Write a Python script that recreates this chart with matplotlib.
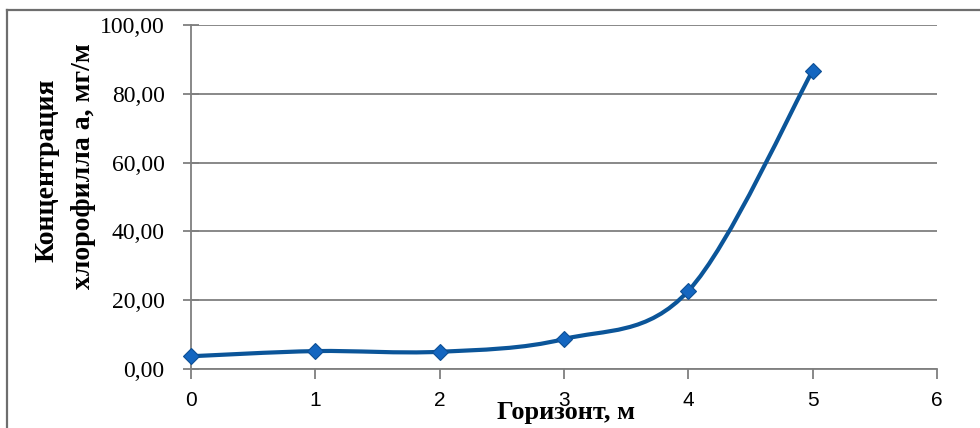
import matplotlib
matplotlib.use("Agg")
import matplotlib.pyplot as plt
from matplotlib.path import Path
from matplotlib.patches import PathPatch
from matplotlib.lines import Line2D
from matplotlib.ticker import FuncFormatter

depth = [0, 1, 2, 3, 4, 5]
chl = [3.7, 5.2, 5.0, 8.7, 22.7, 86.7]
yticks = [0, 20, 40, 60, 80, 100]
xticks = [0, 1, 2, 3, 4, 5, 6]
xlabel = "Горизонт, м"
ylabel_lines = ["Концентрация", "хлорофилла а, мг/м"]

line_color = "#0b5599"
marker_face = "#1466c0"
marker_edge = "#0d4f94"
grid_color = "#7f7f7f"

fig = plt.figure(figsize=(9.8, 4.28), dpi=100)
ax = fig.add_axes([0.1949, 0.1379, 0.7612, 0.8037])

# figure border (top and left visible)
fig.add_artist(Line2D([7/980, 7/980], [0, 1 - 10/428], transform=fig.transFigure, color="#6e6e6e", lw=1.6))
fig.add_artist(Line2D([7/980, 1], [1 - 10/428, 1 - 10/428], transform=fig.transFigure, color="#6e6e6e", lw=1.6))

# Excel-like smoothed line via cubic Bezier
pts = list(zip(depth, chl))
n = len(pts)
verts = [pts[0]]
codes = [Path.MOVETO]
for i in range(n - 1):
    p0 = pts[i - 1] if i > 0 else pts[i]
    p1 = pts[i]
    p2 = pts[i + 1]
    p3 = pts[i + 2] if i + 2 < n else pts[i + 1]
    c1 = (p1[0] + (p2[0] - p0[0]) / 6, p1[1] + (p2[1] - p0[1]) / 6)
    c2 = (p2[0] - (p3[0] - p1[0]) / 6, p2[1] - (p3[1] - p1[1]) / 6)
    verts += [c1, c2, p2]
    codes += [Path.CURVE4] * 3
patch = PathPatch(Path(verts, codes), facecolor="none", edgecolor=line_color, lw=3.0, zorder=3,
                  capstyle="round", joinstyle="round")
ax.add_patch(patch)
ax.plot(depth, chl, linestyle="none", marker="D", markersize=8.5, markerfacecolor=marker_face,
        markeredgecolor=marker_edge, markeredgewidth=0.8, zorder=4, clip_on=False)

ax.set_xlim(0, 6)
ax.set_ylim(0, 100)
ax.set_xticks(xticks)
ax.set_yticks(yticks)
ax.yaxis.set_major_formatter(FuncFormatter(lambda v, p: f"{v:.2f}".replace(".", ",")))
ax.grid(axis="y", color=grid_color, lw=1.3)
ax.set_axisbelow(True)

for s in ["top", "right"]:
    ax.spines[s].set_visible(False)
for s in ["left", "bottom"]:
    ax.spines[s].set_color(grid_color)
    ax.spines[s].set_linewidth(1.3)

ax.tick_params(axis="x", direction="out", length=7, width=1.3, color=grid_color, pad=9, labelsize=15)
ax.tick_params(axis="y", direction="inout", length=12, width=1.3, color=grid_color, pad=13, labelsize=17)
for t in ax.get_xticklabels():
    t.set_fontfamily("Liberation Sans")
for t in ax.get_yticklabels():
    t.set_fontfamily("Liberation Serif")

fig.text(566/980, 1 - 412/428, xlabel, ha="center", va="center",
         fontfamily="Liberation Serif", fontweight="bold", fontsize=19)
fig.text(47/980, 1 - 170/428, ylabel_lines[0], ha="center", va="center",
         rotation=90, fontfamily="Liberation Serif", fontweight="bold", fontsize=20)
fig.text(84/980, 1 - 166/428, ylabel_lines[1], ha="center", va="center",
         rotation=90, fontfamily="Liberation Serif", fontweight="bold", fontsize=20)

fig.savefig("out.png", dpi=100)
